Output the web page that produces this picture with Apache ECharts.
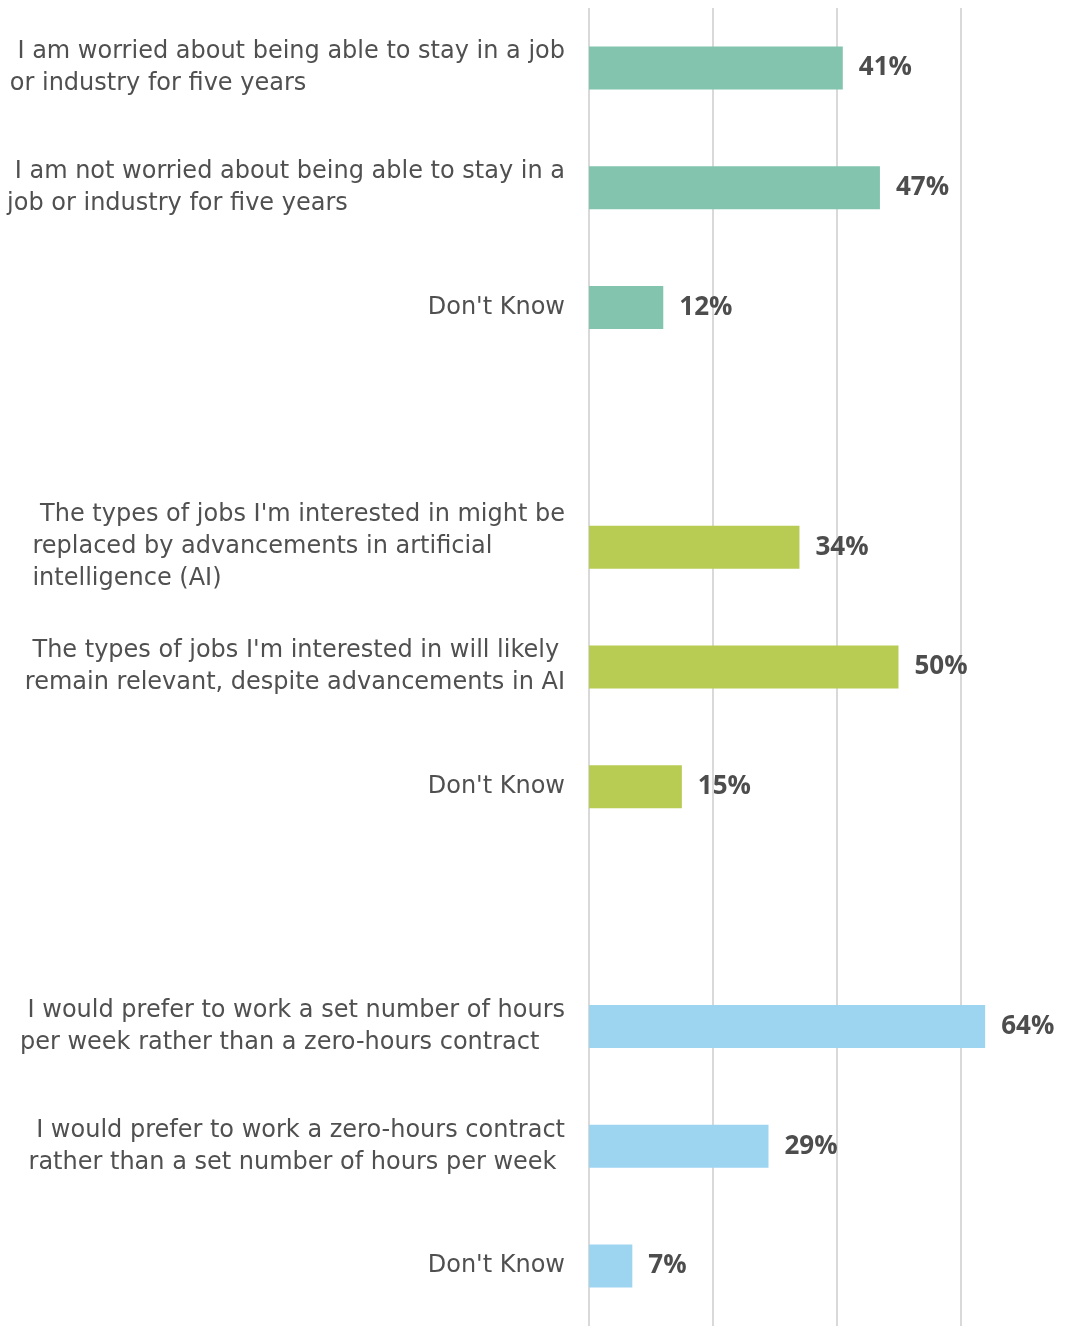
<!DOCTYPE html>
<html>
<head>
<meta charset="utf-8">
<script src="https://cdn.jsdelivr.net/npm/echarts@6/dist/echarts.min.js"></script>
<style>
  html, body { margin: 0; padding: 0; background: #fff; }
  #chart { width: 1078px; height: 1326px; }
</style>
</head>
<body>
<div id="chart"></div>
<script>
// statements, top to bottom ('' = spacer row between groups)
const categories = [
  ' I am worried about being able to stay in a job\nor industry for five years',
  ' I am not worried about being able to stay in a\njob or industry for five years',
  "Don't Know",
  '',
  " The types of jobs I'm interested in might be\nreplaced by advancements in artificial\nintelligence (AI)",
  " The types of jobs I'm interested in will likely\nremain relevant, despite advancements in AI",
  "Don't Know",
  '',
  ' I would prefer to work a set number of hours\nper week rather than a zero-hours contract',
  ' I would prefer to work a zero-hours contract\nrather than a set number of hours per week',
  "Don't Know"
]
const values = [41, 47, 12, null, 34, 50, 15, null, 64, 29, 7]
const groupOf = [0, 0, 0, -1, 1, 1, 1, -1, 2, 2, 2]
const groupColors = ['#82c4ae', '#b8cb53', '#9dd4f0']

const chart = echarts.init(document.getElementById('chart'))

const option = {
  animation: false,
  grid: {
    left: 589,
    right: 0,
    top: 8,
    height: 1324
  },
  xAxis: {
    type: 'value',
    min: 0,
    max: 79,
    interval: 20,
    axisLabel: { show: false },
    axisLine: { show: false },
    axisTick: { show: false },
    splitLine: {
      show: true,
      showMaxLine: false,
      lineStyle: { color: '#d9d9d9', width: 2 }
    }
  },
  yAxis: {
    type: 'category',
    inverse: true,
    data: categories,
    axisLine: { show: false },
    axisTick: { show: false },
    axisLabel: {
      margin: 24,
      align: 'right',
      formatter: function (v) {
        if (!v) return ''
        return v.split('\n').map(l => '{l|' + l + '}').join('\n')
      },
      rich: {
        l: {
          align: 'left',
          fontFamily: 'DejaVu Sans',
          fontSize: 24,
          lineHeight: 32,
          color: '#505050'
        }
      }
    }
  },
  series: [
    {
      type: 'bar',
      barWidth: 43,
      data: values.map((v, i) => ({
        value: v,
        itemStyle: { color: groupColors[groupOf[i]] || '#ccc' }
      })),
      label: {
        show: true,
        position: 'right',
        distance: 16,
        formatter: '{c}%',
        fontFamily: 'Open Sans',
        fontWeight: 'bold',
        fontSize: 26,
        color: '#4d4d4d'
      }
    }
  ]
}

chart.setOption(option)
</script>
</body>
</html>
